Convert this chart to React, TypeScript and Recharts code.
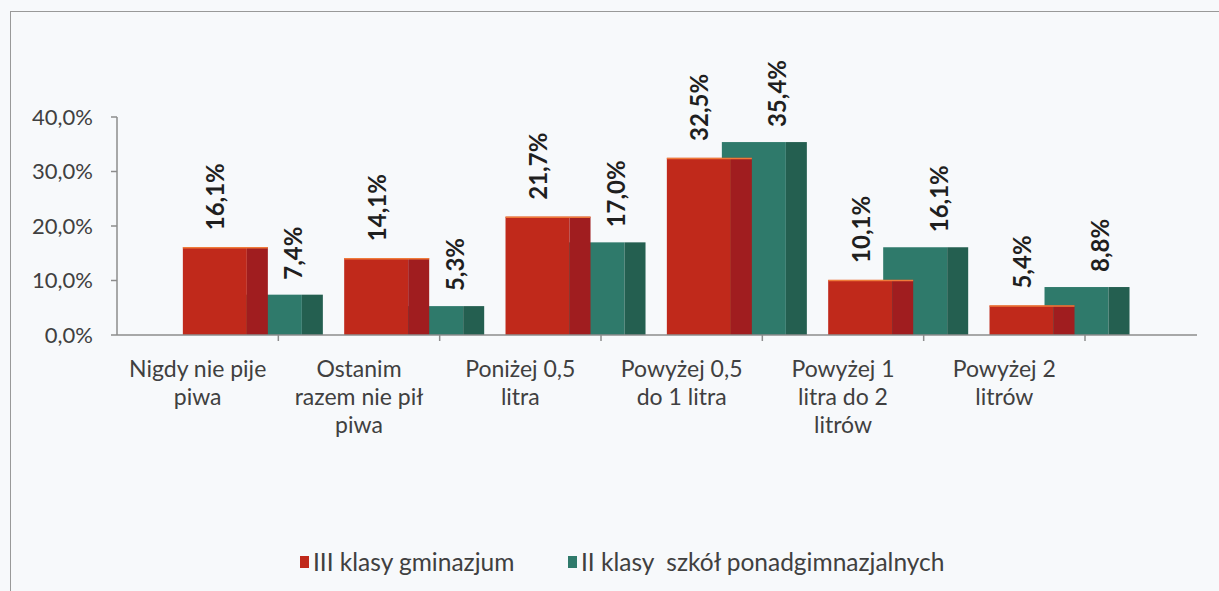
import { BarChart, Bar, XAxis, YAxis, LabelList } from "recharts";

// Categories (line breaks mark where the original wraps the label)
const categories = [
  "Nigdy nie pije\npiwa",
  "Ostanim\nrazem nie pił\npiwa",
  "Poniżej 0,5\nlitra",
  "Powyżej 0,5\ndo 1 litra",
  "Powyżej 1\nlitra do 2\nlitrów",
  "Powyżej 2\nlitrów",
];
const gimnazjum = [16.1, 14.1, 21.7, 32.5, 10.1, 5.4];
const ponadgimnazjalne = [7.4, 5.3, 17.0, 35.4, 16.1, 8.8];
const yTicks = [0, 10, 20, 30, 40];
const seriesNames = ["III klasy gminazjum", "II klasy  szkół ponadgimnazjalnych"];

const data = categories.map((cat, i) => ({
  cat,
  gim: gimnazjum[i],
  pon: ponadgimnazjalne[i],
}));

const FONT = "Lato, 'Open Sans', sans-serif";
const TEXT = "#404040";
const AXIS = "#8c8c8c";
const RED = "#c0291b";
const RED_SIDE = "#a01d1f";
const GREEN = "#2f7a6b";
const GREEN_SIDE = "#245f50";

const W = 1219;
const H = 591;
const PLOT_LEFT = 117;
const PLOT_RIGHT = 1197;
const PAD_RIGHT = 112;
const BAND = (PLOT_RIGHT - PLOT_LEFT - PAD_RIGHT) / categories.length;
const SIDE = 21;
const BAR = 85;

// pseudo-3D column: front face plus darker side strip
function Column(props: any, face: string, side: string, edge?: string) {
  const { x, y, width, height } = props;
  if (!height || height <= 0) return <g />;
  return (
    <g>
      <rect x={x} y={y} width={width - SIDE} height={height} fill={face} />
      <rect x={x + width - SIDE} y={y} width={SIDE} height={height} fill={side} />
      {edge && <line x1={x} x2={x + width} y1={y + 0.5} y2={y + 0.5} stroke={edge} strokeWidth={1.5} />}
    </g>
  );
}

function makeLabel(offsetX: number, gap: number) {
  return (props: any) => {
    const { x, y, value } = props;
    const cx = x + offsetX;
    const cy = y - gap;
    const txt = Number(value).toFixed(1).replace(".", ",") + "%";
    return (
      <text
        transform={`translate(${cx},${cy}) rotate(-90)`}
        textAnchor="start"
        dy="0.36em"
        fontFamily={FONT}
        fontWeight={700}
        fontSize={24}
        fill="#1f1f1f"
      >
        {txt}
      </text>
    );
  };
}

function CategoryTick(props: any) {
  const { x, y, payload } = props;
  const lines = String(payload.value).split("\n");
  return (
    <g>
      <line x1={x + BAND / 2} x2={x + BAND / 2} y1={y} y2={y + 6} stroke={AXIS} strokeWidth={1.5} />
      <text textAnchor="middle" fontFamily={FONT} fontSize={23} fill={TEXT}>
        {lines.map((l, i) => (
          <tspan key={i} x={x} y={y + 42 + i * 28}>
            {l}
          </tspan>
        ))}
      </text>
    </g>
  );
}

function LegendBox() {
  const colors = [RED, GREEN];
  const lefts = [300, 568];
  return (
    <>
      {seriesNames.map((name, i) => (
        <div
          key={name}
          style={{
            position: "absolute",
            left: lefts[i],
            top: 547,
            display: "flex",
            alignItems: "center",
            fontFamily: FONT,
            fontSize: 24.5,
            color: TEXT,
            whiteSpace: "pre",
          }}
        >
          <span style={{ display: "inline-block", width: 9, height: 12, background: colors[i], marginRight: 4 }} />
          {name}
        </div>
      ))}
    </>
  );
}

export default function App() {
  return (
    <div
      style={{
        position: "fixed",
        left: 0,
        top: 0,
        width: W,
        height: H,
        overflow: "hidden",
        background: "#f7f9fb",
      }}
    >
      <div
        style={{
          position: "absolute",
          left: 10,
          top: 11,
          width: 1400,
          height: 800,
          border: "1.5px solid #999",
        }}
      />
      <div style={{ position: "absolute", left: 0, top: 0 }}>
        <BarChart
          width={W}
          height={H}
          data={data}
          margin={{ top: 117, right: W - PLOT_RIGHT, bottom: 136, left: 0 }}
          barGap={0}
        >
          <YAxis
            width={PLOT_LEFT}
            domain={[0, 40]}
            ticks={yTicks}
            interval={0}
            tickFormatter={(v: number) => v.toFixed(1).replace(".", ",") + "%"}
            axisLine={{ stroke: AXIS, strokeWidth: 1.5 }}
            tickLine={{ stroke: AXIS, strokeWidth: 1.5 }}
            tickSize={6}
            tickMargin={18}
            tick={{ fontFamily: FONT, fontSize: 22, fill: TEXT }}
          />
          <XAxis
            xAxisId="cat"
            dataKey="cat"
            height={120}
            interval={0}
            padding={{ left: 0, right: PAD_RIGHT }}
            axisLine={{ stroke: AXIS, strokeWidth: 1.5 }}
            tickLine={false}
            tickSize={0}
            tickMargin={0}
            tick={<CategoryTick />}
          />
          <XAxis xAxisId="g" dataKey="cat" hide padding={{ left: 82.85, right: PAD_RIGHT - 82.85 }} />
          <XAxis xAxisId="r" dataKey="cat" hide padding={{ left: 27.85, right: PAD_RIGHT - 27.85 }} />
          <Bar
            xAxisId="g"
            dataKey="pon"
            barSize={BAR}
            isAnimationActive={false}
            shape={(p: any) => Column(p, GREEN, GREEN_SIDE)}
          >
            <LabelList dataKey="pon" content={makeLabel(56, 15)} />
          </Bar>
          <Bar
            xAxisId="r"
            dataKey="gim"
            barSize={BAR}
            isAnimationActive={false}
            shape={(p: any) => Column(p, RED, RED_SIDE, "#ef7a3a")}
          >
            <LabelList dataKey="gim" content={makeLabel(33, 17)} />
          </Bar>
        </BarChart>
      </div>
      <LegendBox />
    </div>
  );
}
